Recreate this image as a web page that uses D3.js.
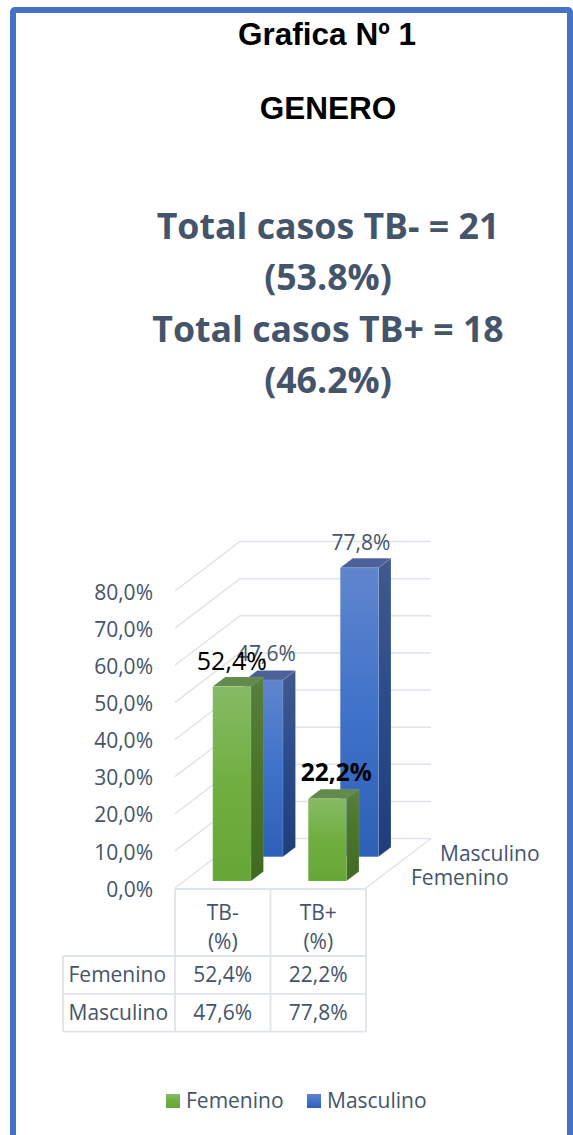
<!DOCTYPE html>
<html>
<head>
<meta charset="utf-8">
<style>
    body { margin: 0; background: #fff; }
    text { font-family: 'Open Sans', sans-serif; fill: #44546a; }
</style>
</head>
<body>
    <div id="chart"></div>
    <script src="https://cdn.jsdelivr.net/npm/d3@7"></script>
    <script>
        var width = 573, height = 1135;

        var categories = ['TB-', 'TB+'];
        var series = ['Femenino', 'Masculino'];
        var femenino = [52.4, 22.2];
        var masculino = [47.6, 77.8];
        var yTicks = [0, 10, 20, 30, 40, 50, 60, 70, 80];
        var totals = ['Total casos TB- = 21', '(53.8%)', 'Total casos TB+ = 18', '(46.2%)'];

        var values = { Femenino: femenino, Masculino: masculino };
        var textSize = '21px';

        var fmt = function(d){ return d3.format('.1f')(d).replace('.', ',') + '%'; };

        var svg = d3.select('#chart').append('svg')
            .attr('width', width)
            .attr('height', height)
            .style('display', 'block');

        var defs = svg.append('defs');
        function gradient(id, stops){
            var g = defs.append('linearGradient').attr('id', id)
                .attr('x1', 0).attr('y1', 0).attr('x2', 0).attr('y2', 1);
            stops.forEach(function(s, i){
                g.append('stop').attr('offset', i / (stops.length - 1)).attr('stop-color', s);
            });
        }
        gradient('greenFront', ['#86bb65', '#70ae40', '#66a636']);
        gradient('greenSide', ['#587f3e', '#4a7428', '#406a22']);
        gradient('blueFront', ['#6085ce', '#3f72ca', '#2f60b8']);
        gradient('blueSide', ['#41598f', '#2a4c8a', '#1e3e7a']);

        // frame
        svg.append('rect')
            .attr('x', 13).attr('y', 10)
            .attr('width', 557).attr('height', 1150)
            .attr('rx', 2)
            .attr('fill', 'none')
            .attr('stroke', '#4472c4')
            .attr('stroke-width', 6);

        // titles
        svg.append('text').attr('x', 327).attr('y', 45)
            .attr('text-anchor', 'middle')
            .style('font-family', "'Liberation Sans', Arial, sans-serif")
            .style('font-weight', 700).style('font-size', '31.5px').style('fill', '#000')
            .text('Grafica Nº 1');
        svg.append('text').attr('x', 328).attr('y', 119)
            .attr('text-anchor', 'middle')
            .style('font-family', "'Liberation Sans', Arial, sans-serif")
            .style('font-weight', 700).style('font-size', '31.5px').style('fill', '#000')
            .text('GENERO');

        var totalBaselines = d3.scalePoint().domain(totals).range([239, 393]);
        svg.selectAll('.total')
            .data(totals)
            .enter().append('text')
            .attr('class', 'total')
            .attr('x', 328)
            .attr('y', function(d){ return totalBaselines(d); })
            .attr('text-anchor', 'middle')
            .style('font-weight', 700)
            .style('font-size', '35.7px')
            .text(function(d){ return d; });

        // 3d projection: x along the category axis, z is depth 0..1, v the value
        var left = 175, right = 366, floorY = 888;
        var depthX = 65, depthY = 49.5;

        var x = d3.scaleBand().domain(categories).range([left, right])
            .paddingInner(0.6).paddingOuter(0.3);
        var z = d3.scaleBand().domain(series).range([0, 1])
            .paddingInner(0.61).paddingOuter(0.32).align(0.444);
        var y = d3.scaleLinear().domain([0, 80]).range([floorY, floorY - 297]);

        function pt(px, depth, v){
            return [px + depth * depthX, y(v) - depth * depthY];
        }
        var line = d3.line();

        // walls and floor
        var grid = svg.append('g')
            .attr('fill', 'none')
            .attr('stroke', '#dfe3ea')
            .attr('stroke-width', 1.5);
        grid.selectAll('path.wall')
            .data(yTicks)
            .enter().append('path')
            .attr('class', 'wall')
            .attr('d', function(d){
                return line([pt(left, 0, d), pt(left, 1, d), pt(right, 1, d)]);
            });
        grid.append('path').attr('d', line([pt(right, 0, 0), pt(right, 1, 0)]));

        // value axis
        var axis = svg.append('g')
            .attr('transform', 'translate(159,1.5)')
            .call(d3.axisLeft(y).tickValues(yTicks).tickSize(0).tickPadding(6).tickFormat(fmt));
        axis.select('.domain').remove();
        axis.selectAll('text')
            .style('font-family', "'Open Sans', sans-serif")
            .style('font-size', textSize);

        // bars, back row first
        function face(g, points, fill){
            g.append('path').attr('d', line(points) + 'Z').attr('fill', fill);
        }
        var bars = [];
        series.slice().reverse().forEach(function(s){
            categories.forEach(function(c, i){
                bars.push({ serie: s, cat: c, value: values[s][i] });
            });
        });
        svg.selectAll('g.bar')
            .data(bars)
            .enter().append('g')
            .attr('class', 'bar')
            .each(function(d){
                var g = d3.select(this);
                var x0 = x(d.cat), x1 = x0 + x.bandwidth();
                var z0 = z(d.serie), z1 = z0 + z.bandwidth();
                var green = d.serie === 'Femenino';
                face(g, [pt(x1, z0, 0), pt(x1, z0, d.value), pt(x1, z1, d.value), pt(x1, z1, 0)],
                    green ? 'url(#greenSide)' : 'url(#blueSide)');
                face(g, [pt(x0, z0, d.value), pt(x0, z1, d.value), pt(x1, z1, d.value), pt(x1, z0, d.value)],
                    green ? '#628a4a' : '#4a6299');
                face(g, [pt(x0, z0, 0), pt(x0, z0, d.value), pt(x1, z0, d.value), pt(x1, z0, 0)],
                    green ? 'url(#greenFront)' : 'url(#blueFront)');
                g.selectAll('path').attr('stroke', '#fff').attr('stroke-opacity', 0.12).attr('stroke-width', 0.8);
            });

        // data labels, placed by the bar they belong to
        var labelStyle = {
            Femenino: [{ size: 25, weight: 400, dx: 0, dy: -17 }, { size: 24.5, weight: 700, dx: 9, dy: -18 }],
            Masculino: [{ size: 21, weight: 400, dx: 2.5, dy: -19 }, { size: 21, weight: 400, dx: 1.5, dy: -18 }]
        };
        svg.selectAll('text.val')
            .data(bars)
            .enter().append('text')
            .attr('class', 'val')
            .attr('text-anchor', 'middle')
            .attr('x', function(d){
                var st = labelStyle[d.serie][categories.indexOf(d.cat)];
                return pt(x(d.cat) + x.bandwidth() / 2, z(d.serie), d.value)[0] + st.dx;
            })
            .attr('y', function(d){
                var st = labelStyle[d.serie][categories.indexOf(d.cat)];
                return pt(0, z(d.serie), d.value)[1] + st.dy;
            })
            .style('font-size', function(d){ return labelStyle[d.serie][categories.indexOf(d.cat)].size + 'px'; })
            .style('font-weight', function(d){ return labelStyle[d.serie][categories.indexOf(d.cat)].weight; })
            .style('fill', function(d){ return d.serie === 'Femenino' ? '#000' : '#44546a'; })
            .text(function(d){ return fmt(d.value); });

        // depth axis labels
        svg.selectAll('text.depth')
            .data(series)
            .enter().append('text')
            .attr('class', 'depth')
            .attr('x', function(d){ return d === 'Femenino' ? 411 : 440; })
            .attr('y', function(d){ return d === 'Femenino' ? 885 : 861; })
            .style('font-size', textSize)
            .text(function(d){ return d; });

        // data table
        var tableLeft = 63, rowTop = 956, rowH = 37.8, headTop = 889;
        var tbl = svg.append('g')
            .attr('fill', 'none')
            .attr('stroke', '#dfe3ea')
            .attr('stroke-width', 1.8);
        [left, left + x.step(), left + 2 * x.step()].forEach(function(cx){
            tbl.append('path').attr('d', line([[cx, headTop], [cx, rowTop + 2 * rowH]]));
        });
        tbl.append('path').attr('d', line([[tableLeft, rowTop], [tableLeft, rowTop + 2 * rowH]]));
        tbl.append('path').attr('d', line([[left, headTop], [right, headTop]]));
        [0, 1, 2].forEach(function(r){
            tbl.append('path').attr('d', line([[tableLeft, rowTop + r * rowH], [right, rowTop + r * rowH]]));
        });

        categories.forEach(function(c){
            var cx = x(c) + x.bandwidth() / 2;
            svg.append('text').attr('x', cx).attr('y', 920).attr('text-anchor', 'middle')
                .style('font-size', textSize).text(c);
            svg.append('text').attr('x', cx).attr('y', 949).attr('text-anchor', 'middle')
                .style('font-size', textSize).text('(%)');
        });
        series.forEach(function(s, r){
            var by = rowTop + r * rowH + 26;
            svg.append('text').attr('x', 68.5).attr('y', by).style('font-size', textSize).text(s);
            categories.forEach(function(c, i){
                svg.append('text').attr('x', x(c) + x.bandwidth() / 2).attr('y', by)
                    .attr('text-anchor', 'middle')
                    .style('font-size', textSize)
                    .text(fmt(values[s][i]));
            });
        });

        // legend
        var legendX = d3.scaleOrdinal().domain(series).range([166, 307]);
        var legend = svg.selectAll('g.legend')
            .data(series)
            .enter().append('g')
            .attr('class', 'legend')
            .attr('transform', function(d){ return 'translate(' + legendX(d) + ',1094)'; });
        legend.append('rect')
            .attr('width', 14).attr('height', 14)
            .attr('fill', function(d){ return d === 'Femenino' ? 'url(#greenFront)' : 'url(#blueFront)'; });
        legend.append('text')
            .attr('x', 20).attr('y', 14)
            .style('font-size', textSize)
            .text(function(d){ return d; });
    </script>
</body>
</html>
